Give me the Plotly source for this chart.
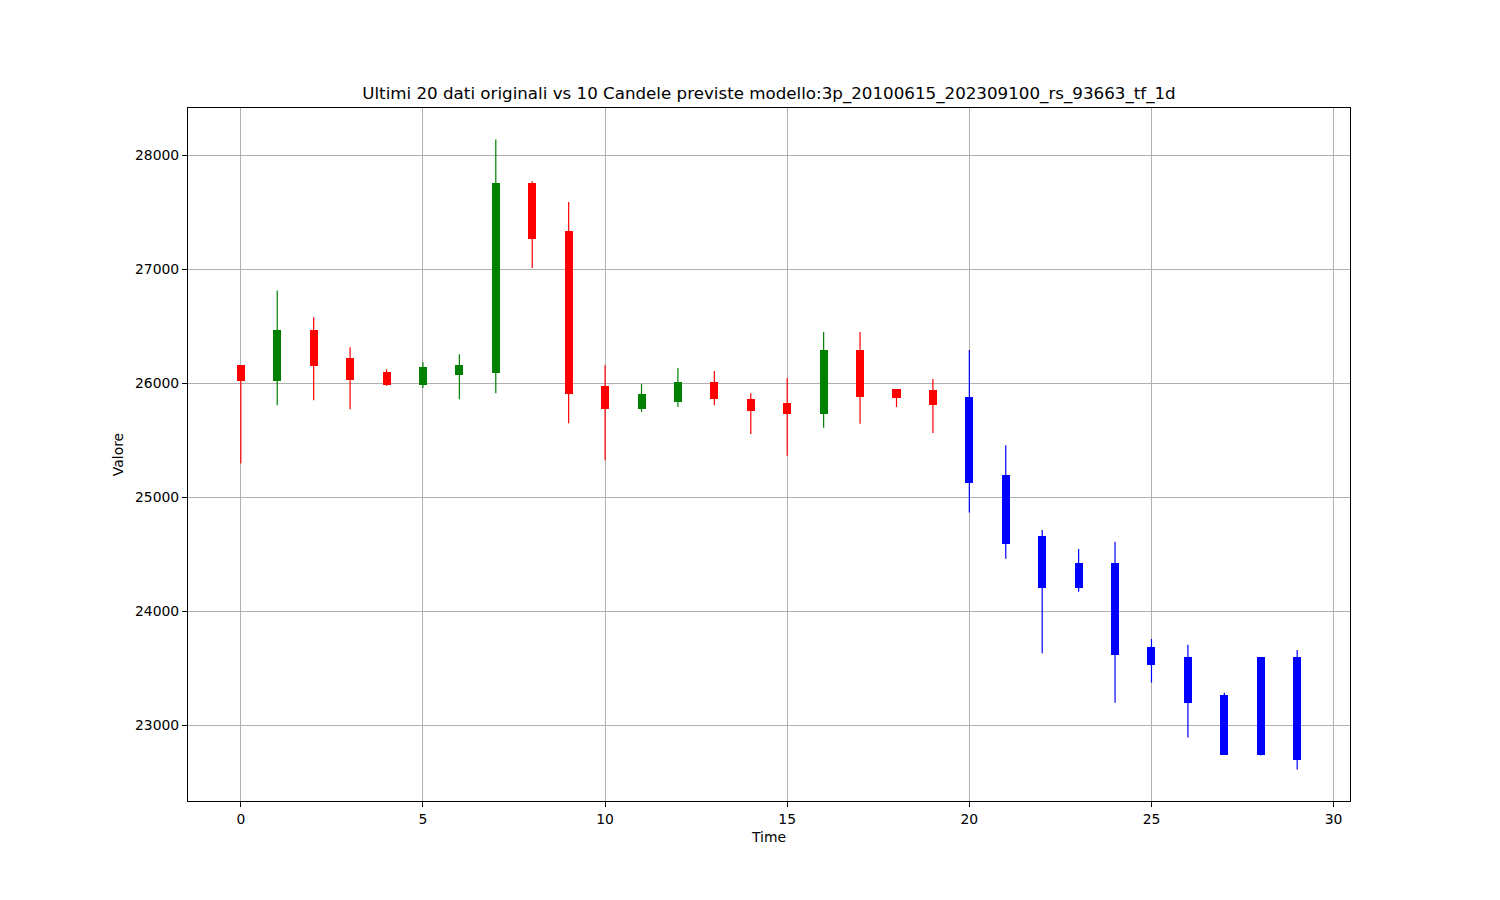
import plotly.graph_objects as go

# Original candles (0..19) and predicted candles (20..29)
time = list(range(30))
open_ = [26158, 26020, 26464, 26219, 26096, 25985, 26073, 26090, 27754, 27334,
         25974, 25775, 25836, 26009, 25860, 25825, 25729, 26292, 25950, 25941,
         25877, 25194, 24660, 24424, 24424, 23688, 23601, 23268, 23601, 23601]
high = [26158, 26814, 26578, 26315, 26123, 26184, 26254, 28137, 27771, 27588,
        26158, 25994, 26134, 26108, 25912, 26047, 26450, 26450, 25950, 26038,
        26292, 25457, 24713, 24546, 24610, 23758, 23708, 23288, 23601, 23662]
low = [25297, 25807, 25851, 25772, 25977, 25959, 25860, 25912, 27010, 25650,
       25326, 25749, 25792, 25807, 25556, 25364, 25609, 25644, 25792, 25565,
       24868, 24461, 23633, 24172, 23200, 23376, 22894, 22745, 22736, 22614]
close = [26020, 26464, 26152, 26029, 25985, 26140, 26158, 27754, 27264, 25904,
         25775, 25904, 26009, 25863, 25757, 25731, 26292, 25880, 25871, 25810,
         25127, 24592, 24202, 24202, 23621, 23533, 23200, 22745, 22745, 22701]
n_original = 20

title = "Ultimi 20 dati originali vs 10 Candele previste modello:3p_20100615_202309100_rs_93663_tf_1d"
x_ticks = [0, 5, 10, 15, 20, 25, 30]
y_ticks = [23000, 24000, 25000, 26000, 27000, 28000]

def color_of(i):
    if i >= n_original:
        return "#0000ff"
    return "#008000" if close[i] >= open_[i] else "#ff0000"

colors = [color_of(i) for i in time]

fig = go.Figure()

# wicks
for i in time:
    fig.add_trace(go.Scatter(
        x=[time[i], time[i]], y=[low[i], high[i]], mode="lines",
        line=dict(color=colors[i], width=1.2), showlegend=False, hoverinfo="skip"))

# bodies
base = [min(o, c) for o, c in zip(open_, close)]
height = [abs(c - o) for o, c in zip(open_, close)]
fig.add_trace(go.Bar(
    x=time, y=height, base=base, width=0.22,
    marker=dict(color=colors, line=dict(width=0)), showlegend=False))

font = "DejaVu Sans, sans-serif"
fig.update_layout(
    width=1500, height=900,
    margin=dict(l=180, r=158, t=100, b=107),
    paper_bgcolor="white", plot_bgcolor="white",
    font=dict(family=font, size=14, color="black"),
    title=dict(text=title, x=0.5, xanchor="center", xref="paper",
               y=1, yref="paper", yanchor="bottom", pad=dict(b=9),
               font=dict(size=16.7, family=font, color="black")),
    bargap=0,
)
fig.update_xaxes(
    range=[-1.45, 30.45], tickvals=x_ticks, ticks="outside", ticklen=5,
    tickcolor="black", showline=True, mirror=True, linecolor="black", linewidth=1,
    showgrid=True, gridcolor="#b0b0b0", gridwidth=1, zeroline=False,
    tickfont=dict(size=13.9), title=dict(text="Time", font=dict(size=13.9), standoff=6))
fig.update_yaxes(
    range=[22338, 28413], tickvals=y_ticks, ticks="outside", ticklen=5,
    tickcolor="black", showline=True, mirror=True, linecolor="black", linewidth=1,
    showgrid=True, gridcolor="#b0b0b0", gridwidth=1, zeroline=False,
    tickformat="d",
    tickfont=dict(size=13.9), title=dict(text="Valore", font=dict(size=13.9), standoff=8))

fig.write_html("out.html")
